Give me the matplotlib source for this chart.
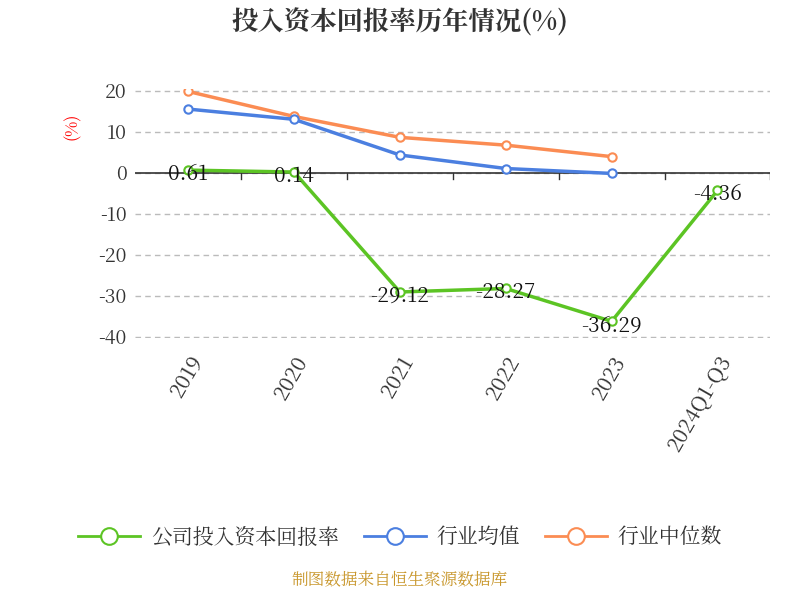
import matplotlib
matplotlib.use("Agg")
import matplotlib.pyplot as plt
from matplotlib import font_manager

for path in font_manager.findSystemFonts():
    if "cjk" in path.lower() or "noto" in path.lower():
        try:
            font_manager.fontManager.addfont(path)
        except Exception:
            pass

cjk = [f.name for f in font_manager.fontManager.ttflist if "CJK" in f.name]
family = ["Noto Sans CJK SC"] if "Noto Sans CJK SC" in cjk else (cjk[:1] or [])
plt.rcParams["font.family"] = family + ["DejaVu Sans"]
plt.rcParams["axes.unicode_minus"] = False

categories = ["2019", "2020", "2021", "2022", "2023", "2024Q1-Q3"]
company = [0.61, 0.14, -29.12, -28.27, -36.29, -4.36]
industry_mean = [15.5, 13.0, 4.3, 1.0, -0.2]
industry_median = [19.8, 13.7, 8.6, 6.7, 3.9]
y_ticks = [20, 10, 0, -10, -20, -30, -40]

fig = plt.figure(figsize=(8, 6), dpi=100)
ax = fig.add_axes([0.169, 0.437, 0.794, 0.414])

x = list(range(len(categories)))
ax.plot(x[:len(industry_median)], industry_median, color="#fb8c53", lw=2.5, marker="o",
        ms=6, mfc="white", mec="#fb8c53", mew=1.5, label="行业中位数", zorder=3)
ax.plot(x[:len(industry_mean)], industry_mean, color="#4b7fe0", lw=2.5, marker="o",
        ms=6, mfc="white", mec="#4b7fe0", mew=1.5, label="行业均值", zorder=3)
ax.plot(x, company, color="#5cc424", lw=2.5, marker="o",
        ms=6, mfc="white", mec="#5cc424", mew=1.5, label="公司投入资本回报率", zorder=4)
for xi, v in zip(x, company):
    ax.text(xi, v - 1.0, f"{v:.2f}", ha="center", va="center", fontsize=15, color="#111111", zorder=5)

ax.set_xlim(-0.5, len(categories) - 0.5)
ax.set_ylim(-40.3, 20.3)
ax.set_yticks(y_ticks)
ax.set_yticklabels([str(t) for t in y_ticks], fontsize=14, color="#333333")
ax.set_xticks(x)
ax.set_xticklabels(categories, rotation=60, ha="right", rotation_mode="anchor", fontsize=15, color="#333333")
ax.tick_params(axis="x", length=0, pad=10)
ax.tick_params(axis="y", length=0, pad=6)
for b in [i + 0.5 for i in range(len(categories))]:
    ax.plot([b, b], [0, -1.5], color="#333333", lw=1, zorder=2)
ax.grid(axis="y", color="#bbbbbb", ls=(0, (4, 3)), lw=1)
ax.axhline(0, color="#333333", lw=1.2, zorder=2)
for s in ax.spines.values():
    s.set_visible(False)
ax.set_axisbelow(True)

fig.text(0.09, 0.79, "(%)", color="red", rotation=90, fontsize=12, ha="center", va="center")
fig.text(0.5, 0.962, "投入资本回报率历年情况(%)", ha="center", va="center", fontsize=19,
         fontweight="bold", color="#333333")

h, l = ax.get_legend_handles_labels()
leg = fig.legend(h[::-1], l[::-1], loc="center", bbox_to_anchor=(0.5, 0.105), ncol=3, frameon=False,
                 fontsize=15, handlelength=3.0, columnspacing=1.2, handletextpad=0.5,
                 labelcolor="#333333", markerscale=2.0)
for line in leg.get_lines():
    line.set_linewidth(2)
fig.text(0.5, 0.018, "制图数据来自恒生聚源数据库", ha="center", va="bottom", fontsize=12, color="#c8962a")

fig.savefig("out.png", dpi=100, facecolor="white")
